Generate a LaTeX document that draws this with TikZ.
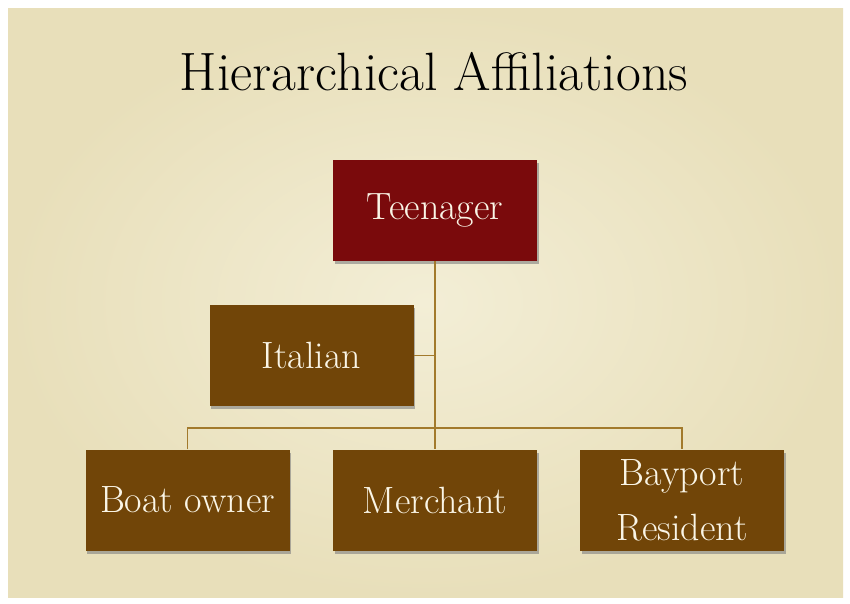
\documentclass[tikz,border=0pt]{standalone}
\usetikzlibrary{shadows}
\definecolor{paper}{HTML}{F3EED6}
\definecolor{paperedge}{HTML}{E8DFBA}
\definecolor{teenred}{HTML}{7A0A0C}
\definecolor{boxbrown}{HTML}{714508}
\definecolor{boxtext}{HTML}{FAF5E6}
\definecolor{linkgold}{HTML}{A27A2C}
\begin{document}
\begin{tikzpicture}[x=1pt,y=-1pt,
  box/.style={minimum width=204pt, minimum height=101pt, inner sep=0pt,
    text=boxtext, align=center, font=\fontsize{38}{55}\selectfont,
    drop shadow={shadow xshift=1.5pt, shadow yshift=-3pt, opacity=0.6}},
  link/.style={draw=linkgold, line width=1.4pt}]
  \useasboundingbox (0,0) rectangle (850,603);
  %% paper background
  \fill[white] (0,0) rectangle (850,603);
  \shade[inner color=paper, outer color=paperedge] (8,8) rectangle (843,597);

  %% title
  \node[font=\fontsize{54}{64}\selectfont] (title) at (434,72) {Hierarchical Affiliations};

  %% boxes
  \node[box, fill=teenred] (teen) at (435,210.5) {Teenager};
  \node[box, fill=boxbrown] (italian) at (311.5,355.5) {Italian};
  \node[box, fill=boxbrown] (boat) at (187.5,500) {Boat owner};
  \node[box, fill=boxbrown] (merchant) at (435,500) {Merchant};
  \node[box, fill=boxbrown] (bayport) at (682,500) {Bayport\\Resident};

  %% connectors
  \coordinate (bus) at (435,428);
  \draw[link] (teen.south) -- (merchant.north);
  \draw[link] (italian.east) -- (italian.east -| teen.south);
  \draw[link] (boat.north) |- (bus) -| (bayport.north);
\end{tikzpicture}
\end{document}
